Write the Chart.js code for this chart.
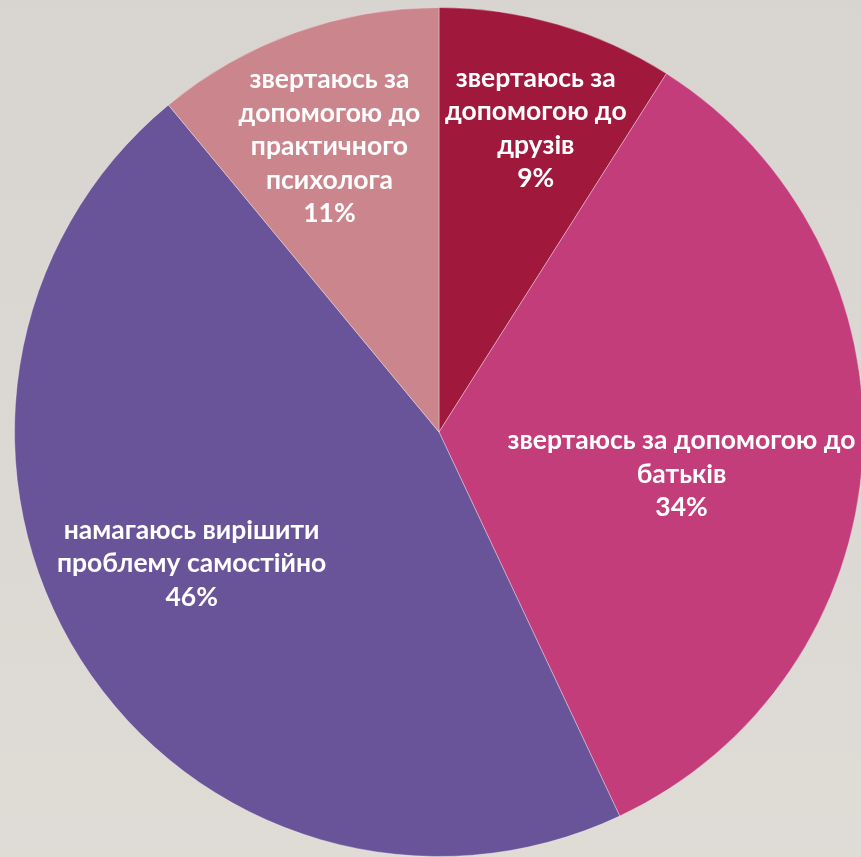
<!DOCTYPE html>
<html>
<head>
<meta charset="utf-8">
<script src="https://cdn.jsdelivr.net/npm/chart.js@4.4.0/dist/chart.umd.min.js"></script>
<style>
  html, body { margin:0; padding:0; width:861px; height:857px; overflow:hidden;
    background: linear-gradient(180deg, #d8d5d1 0%, #dcd9d4 60%, #dfdcd6 100%); }
  #wrap { position:absolute; left:0; top:0; width:870px; height:857px; }
</style>
</head>
<body>
<div id="wrap"><canvas id="c"></canvas></div>
<script>
const categories = [
  ["звертаюсь за", "допомогою до", "друзів"],
  ["звертаюсь за допомогою до", "батьків"],
  ["намагаюсь вирішити", "проблему самостійно"],
  ["звертаюсь за", "допомогою до", "практичного", "психолога"]
];
const values = [9, 34, 46, 11];
const percentLabels = ["9%", "34%", "46%", "11%"];
const colors = ["#a0193c", "#c33d7b", "#6a5499", "#cb868d"];

// label placement style: radial fraction and angular offset (degrees)
const labelStyle = [
  { r: 0.75, da: 1.5 },
  { r: 0.58, da: 6.3 },
  { r: 0.66, da: 4.4 },
  { r: 0.72, da: -1.2 }
];

const labelPlugin = {
  id: 'sliceLabels',
  afterDatasetsDraw(chart) {
    const ctx = chart.ctx;
    const meta = chart.getDatasetMeta(0);
    ctx.save();
    ctx.fillStyle = '#ffffff';
    ctx.textAlign = 'center';
    ctx.textBaseline = 'middle';
    ctx.font = 'bold 26.5px Lato, "Open Sans", sans-serif';
    meta.data.forEach((arc, i) => {
      const p = arc.getProps(['x','y','startAngle','endAngle','outerRadius'], true);
      const mid = (p.startAngle + p.endAngle) / 2 + labelStyle[i].da * Math.PI / 180;
      const rr = p.outerRadius * labelStyle[i].r;
      const cx = p.x + Math.cos(mid) * rr;
      const cy = p.y + Math.sin(mid) * rr;
      const lines = categories[i].concat([percentLabels[i]]);
      const lh = 33.5;
      const y0 = cy - (lines.length - 1) * lh / 2;
      lines.forEach((t, k) => ctx.fillText(t, cx, y0 + k * lh));
    });
    ctx.restore();
  }
};

new Chart(document.getElementById('c'), {
  type: 'pie',
  data: {
    labels: categories.map(c => c.join(' ')),
    datasets: [{
      data: values,
      backgroundColor: colors,
      borderColor: 'rgba(255,255,255,0.35)',
      borderWidth: 1
    }]
  },
  options: {
    responsive: true,
    maintainAspectRatio: false,
    animation: false,
    layout: { padding: { left: 14, right: 6, top: 7, bottom: 0 } },
    plugins: { legend: { display: false }, tooltip: { enabled: false } }
  },
  plugins: [labelPlugin]
});
</script>
</body>
</html>
